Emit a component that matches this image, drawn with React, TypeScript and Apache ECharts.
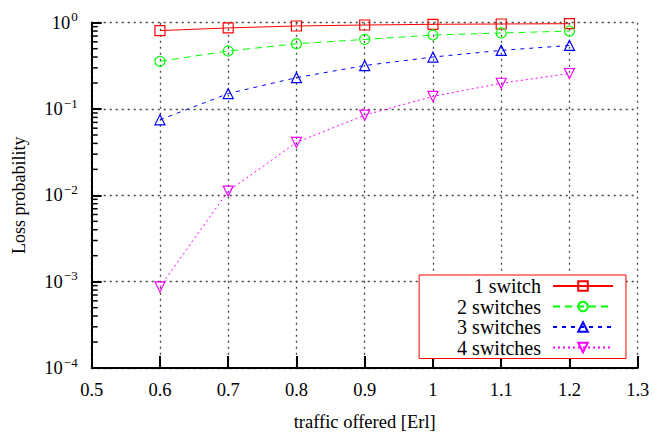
import React, { useEffect, useRef } from "react";
import * as echarts from "echarts";

const traffic = [0.6, 0.7, 0.8, 0.9, 1.0, 1.1, 1.2];
const oneSwitch = [0.81, 0.87, 0.916, 0.94, 0.958, 0.966, 0.974];
const twoSwitches = [0.357, 0.47, 0.57, 0.64, 0.72, 0.76, 0.8];
const threeSwitches = [0.075, 0.151, 0.231, 0.319, 0.4, 0.478, 0.545];
const fourSwitches = [0.00087, 0.0112, 0.041, 0.085, 0.14, 0.199, 0.258];
const seriesNames = ["1 switch", "2 switches", "3 switches", "4 switches"];
const decades = [-4, -3, -2, -1];
const minorMultipliers = [2, 3, 4, 5, 6, 7, 8, 9];

const FONT = "Liberation Serif";

export default function App() {
  const ref = useRef<HTMLDivElement>(null);
  useEffect(() => {
    if (!ref.current) return;
    const chart = echarts.init(ref.current, null, { renderer: "svg" });
    const minorData: number[][] = [];
    decades.forEach((d) => {
      minorMultipliers.forEach((k) => minorData.push([0.5, k * Math.pow(10, d)]));
    });
    const mk = (name: string, vals: number[], color: string, symbol: string, dash: any, rotate = 0) => ({
      name,
      type: "line",
      data: traffic.map((x, i) => [x, vals[i]]),
      symbol,
      symbolSize: 10,
      symbolRotate: rotate,
      showAllSymbol: true,
      lineStyle: { color, width: 1, type: dash },
      itemStyle: { color: "rgba(255,255,255,0)", borderColor: color, borderWidth: 1.2 },
      z: 3,
    });
    chart.setOption({
      animation: false,
      backgroundColor: "#fff",
      textStyle: { fontFamily: FONT },
      grid: { left: 91.7, right: 16.3, top: 22.7, bottom: 64.3 },
      legend: {
        data: seriesNames,
        orient: "vertical",
        right: 28,
        top: 275,
        align: "right",
        itemWidth: 60,
        itemHeight: 12,
        itemGap: 0.5,
        padding: [1, 12, 1, 38],
        borderColor: "#ff0000",
        borderWidth: 1,
        backgroundColor: "#fff",
        textStyle: { fontFamily: "serif", fontSize: 20, color: "#000", padding: [0, 7, 0, 0] },
      },
      xAxis: {
        type: "value",
        min: 0.5,
        max: 1.3,
        interval: 0.1,
        name: "traffic offered [Erl]",
        nameLocation: "middle",
        nameGap: 44,
        nameTextStyle: { fontFamily: FONT, fontSize: 18.5, color: "#000" },
        axisLine: { show: true, lineStyle: { color: "#000", width: 2 } },
        axisTick: { show: true, inside: true, length: 12, lineStyle: { color: "#000", width: 2 } },
        axisLabel: {
          fontFamily: "Times New Roman",
          fontSize: 18.5,
          color: "#000",
          margin: 12,
          formatter: (v: number) => String(Math.round(v * 10) / 10),
        },
        splitLine: { show: true, lineStyle: { color: "#444", width: 1.3, type: [2, 4] } },
      },
      yAxis: {
        type: "log",
        logBase: 10,
        min: 0.0001,
        max: 1,
        name: "Loss probability",
        nameLocation: "middle",
        nameGap: 64,
        nameTextStyle: { fontFamily: FONT, fontSize: 18, color: "#000" },
        axisLine: { show: true, lineStyle: { color: "#000", width: 2 } },
        axisTick: { show: true, inside: true, length: 10, lineStyle: { color: "#000", width: 2 } },
        axisLabel: {
          fontFamily: FONT,
          fontSize: 18.5,
          color: "#000",
          margin: 14,
          formatter: (v: number) => {
            const e = Math.round(Math.log10(v));
            return "10{sup|" + (e < 0 ? "\u2212" + -e : String(e)) + "}";
          },
          rich: {
            sup: { fontFamily: FONT, fontSize: 13, color: "#000", verticalAlign: "bottom", padding: [0, 0, 12, 1] },
          },
        },
        splitLine: { show: true, lineStyle: { color: "#444", width: 1.3, type: [2, 4] } },
      },
      series: [
        mk(seriesNames[0], oneSwitch, "#ff0000", "rect", "solid"),
        mk(seriesNames[1], twoSwitches, "#00ff00", "circle", [7, 5]),
        mk(seriesNames[2], threeSwitches, "#0000ff", "triangle", [4, 5]),
        mk(seriesNames[3], fourSwitches, "#ff00ff", "triangle", [2, 3], 180),
        {
          name: "minorTicks",
          type: "scatter",
          data: minorData,
          symbol: "rect",
          symbolSize: [6, 1.5],
          symbolOffset: [3, 0],
          itemStyle: { color: "#000", opacity: 1 },
          clip: false,
          silent: true,
          z: 6,
        },
      ],
    });
    return () => chart.dispose();
  }, []);
  return <div ref={ref} style={{ position: "fixed", left: 0, top: 0, width: 654, height: 436 }} />;
}
